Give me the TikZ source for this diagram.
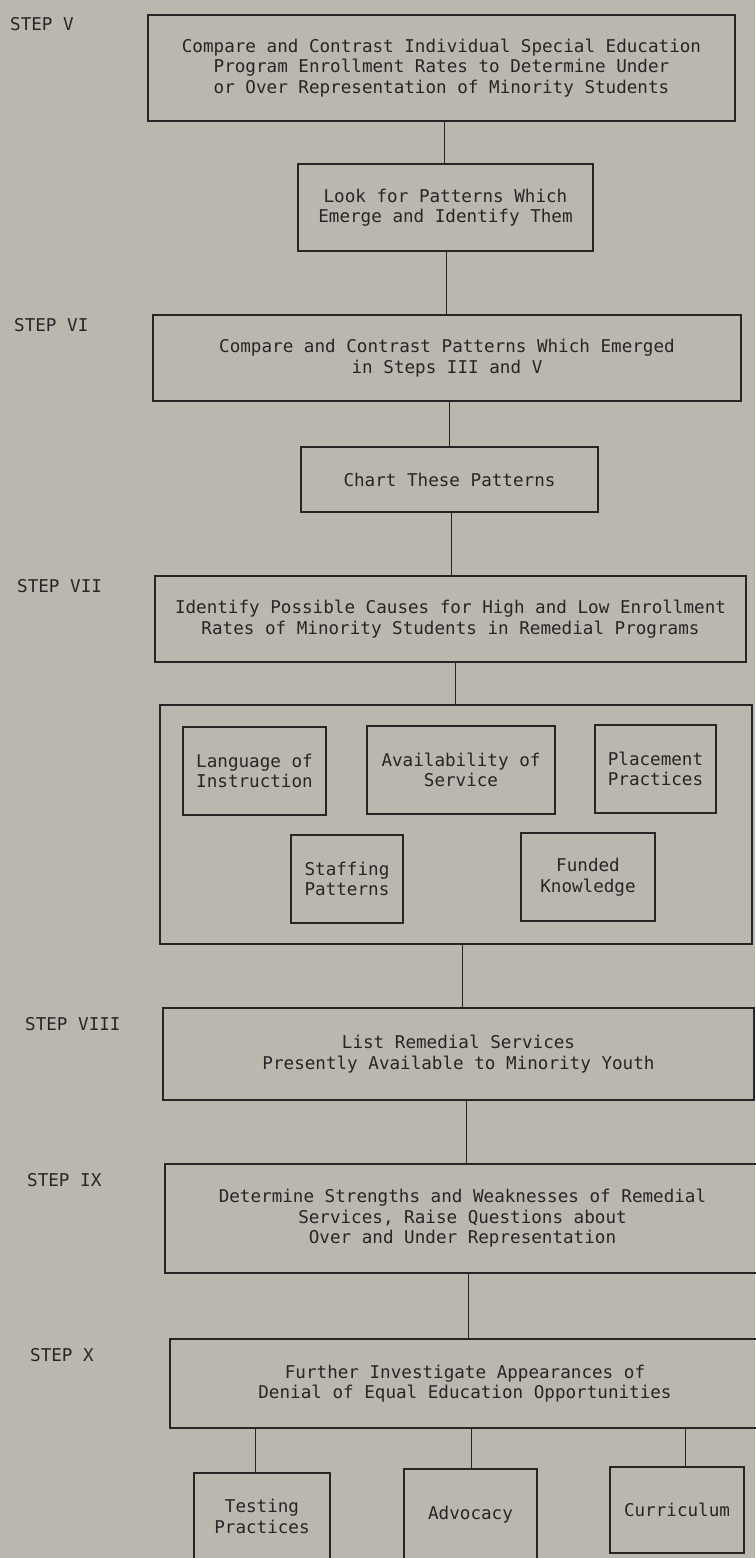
\documentclass[tikz,border=0pt]{standalone}
\usepackage{fontspec}
\setmonofont{DejaVu Sans Mono}
\usetikzlibrary{calc}
\definecolor{paper}{RGB}{187,183,175}
\definecolor{ink}{RGB}{38,38,38}
\newcommand\mainfnt{\ttfamily\fontsize{17.6}{20.5}\selectfont}
\tikzset{
  stepbox/.style={draw=ink, line width=1.3pt, inner sep=2pt, align=center, text=ink, font=\mainfnt},
  steplabel/.style={anchor=base west, inner sep=0pt, text=ink, font=\mainfnt},
  conn/.style={draw=ink, line width=1pt},
}
\begin{document}
\begin{tikzpicture}[x=1pt,y=-1pt]
\fill[paper] (0,0) rectangle (755,1558);
\useasboundingbox (0,0) rectangle (755,1558);

% step labels
\node[steplabel] (l5) at (10,30) {STEP V};
\node[steplabel] (l6) at (14,331) {STEP VI};
\node[steplabel] (l7) at (17,592) {STEP VII};
\node[steplabel] (l8) at (25,1030) {STEP VIII};
\node[steplabel] (l9) at (27,1186) {STEP IX};
\node[steplabel] (l10) at (30,1361) {STEP X};

% boxes
\node[stepbox, minimum width=587pt, minimum height=106pt] (b5) at (441.5,68)
  {Compare and Contrast Individual Special Education\\Program Enrollment Rates to Determine Under\\or Over Representation of Minority Students};
\node[stepbox, minimum width=295pt, minimum height=87pt] (look) at (445.5,207.5)
  {Look for Patterns Which\\Emerge and Identify Them};
\node[stepbox, minimum width=588pt, minimum height=86pt] (b6) at (447,358)
  {Compare and Contrast Patterns Which Emerged\\in Steps III and V};
\node[stepbox, minimum width=297pt, minimum height=65pt] (chart) at (449.5,479.5)
  {Chart These Patterns};
\node[stepbox, minimum width=591pt, minimum height=86pt] (b7) at (450.5,619)
  {Identify Possible Causes for High and Low Enrollment\\Rates of Minority Students in Remedial Programs};
\node[stepbox, minimum width=592pt, minimum height=239pt] (big) at (456,824.5) {};
\node[stepbox, minimum width=143pt, minimum height=88pt] (lang) at (254.5,771)
  {Language of\\Instruction};
\node[stepbox, minimum width=188pt, minimum height=88pt] (avail) at (461,770)
  {Availability of\\Service};
\node[stepbox, minimum width=121pt, minimum height=88pt] (place) at (655.5,769)
  {Placement\\Practices};
\node[stepbox, minimum width=112pt, minimum height=88pt] (staff) at (347,879)
  {Staffing\\Patterns};
\node[stepbox, minimum width=134pt, minimum height=88pt] (fund) at (588,877)
  {Funded\\Knowledge};
\node[stepbox, minimum width=591pt, minimum height=92pt] (b8) at (458.5,1054)
  {List Remedial Services\\Presently Available to Minority Youth};
\node[stepbox, minimum width=595pt, minimum height=109pt] (b9) at (462.5,1218.5)
  {Determine Strengths and Weaknesses of Remedial\\Services, Raise Questions about\\Over and Under Representation};
\node[stepbox, minimum width=590pt, minimum height=89pt] (b10) at (465,1383.5)
  {Further Investigate Appearances of\\Denial of Equal Education Opportunities};
\node[stepbox, minimum width=136pt, minimum height=87pt] (test) at (262,1516.5)
  {Testing\\Practices};
\node[stepbox, minimum width=133pt, minimum height=91pt] (advo) at (470.5,1514.5)
  {Advocacy};
\node[stepbox, minimum width=134pt, minimum height=86pt] (curr) at (677,1510)
  {Curriculum};

% connector x positions
\coordinate (cx1) at (444,0);
\coordinate (cx2) at (446,0);
\coordinate (cx3) at (449,0);
\coordinate (cx4) at (451,0);
\coordinate (cx5) at (455,0);
\coordinate (cx6) at (462,0);
\coordinate (cx7) at (466,0);
\coordinate (cx8) at (468,0);
\coordinate (cx9) at (255,0);
\coordinate (cx10) at (471,0);
\coordinate (cx11) at (685,0);

% connectors
\draw[conn] (b5.south -| cx1) -- (look.north -| cx1);
\draw[conn] (look.south -| cx2) -- (b6.north -| cx2);
\draw[conn] (b6.south -| cx3) -- (chart.north -| cx3);
\draw[conn] (chart.south -| cx4) -- (b7.north -| cx4);
\draw[conn] (b7.south -| cx5) -- (big.north -| cx5);
\draw[conn] (big.south -| cx6) -- (b8.north -| cx6);
\draw[conn] (b8.south -| cx7) -- (b9.north -| cx7);
\draw[conn] (b9.south -| cx8) -- (b10.north -| cx8);
\draw[conn] (b10.south -| cx9) -- (test.north -| cx9);
\draw[conn] (b10.south -| cx10) -- (advo.north -| cx10);
\draw[conn] (b10.south -| cx11) -- (curr.north -| cx11);
\end{tikzpicture}
\end{document}
